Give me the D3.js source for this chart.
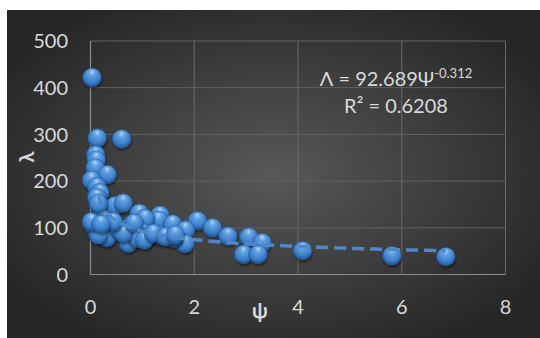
<!DOCTYPE html>
<html><head><meta charset="utf-8">
<script src="https://cdn.jsdelivr.net/npm/d3@7/dist/d3.min.js"></script>
<style>html,body{margin:0;padding:0;background:#fff;}svg{display:block;}</style>
</head><body>
<script>
const psi = [0.03,0.13,0.60,0.10,0.11,0.09,0.32,0.02,0.12,0.18,0.12,0.22,0.25,0.47,0.63,0.94,1.34,1.31,1.05,1.58,2.06,2.35,2.65,1.83,1.82,1.60,1.34,1.00,0.80,0.60,0.31,0.13,0.05,0.73,0.89,1.08,0.50,0.63,0.44,3.05,3.31,2.95,3.23,4.09,5.81,6.85,0.15,0.02,0.84,1.04,0.20,1.21,1.44,0.15,1.63];
const lam = [422,292,290,256,245,228,214,202,188,175,165,134,122,147,153,131,127,116,120,108,115,100,82,95,66,78,84,90,107,98,79,90,105,67,77,80,100,88,113,80,68,43,43,51,40,38,85,113,110,74,108,88,81,152,85];
const xTicks = [0,2,4,6,8];
const yTicks = [0,100,200,300,400,500];
const fitA = 92.689, fitB = -0.312;
const eqLine1 = "Λ = 92.689Ψ", eqSup = "-0.312", eqLine2 = "R² = 0.6208";

const W = 540, H = 338;
const svg = d3.select("body").append("svg").attr("width", W).attr("height", H);
const defs = svg.append("defs");
const bg = defs.append("radialGradient").attr("id","bg").attr("cx","50%").attr("cy","50%").attr("r","60%");
bg.append("stop").attr("offset","0%").attr("stop-color","#585858");
bg.append("stop").attr("offset","100%").attr("stop-color","#262626");
const ball = defs.append("radialGradient").attr("id","ball").attr("cx","50%").attr("cy","40%").attr("r","60%").attr("fx","50%").attr("fy","18%");
ball.append("stop").attr("offset","0%").attr("stop-color","#b4d8fa");
ball.append("stop").attr("offset","28%").attr("stop-color","#62a2e3");
ball.append("stop").attr("offset","72%").attr("stop-color","#3c7fca");
ball.append("stop").attr("offset","100%").attr("stop-color","#1f4f8e");
const blur = defs.append("filter").attr("id","sh").attr("x","-50%").attr("y","-50%").attr("width","200%").attr("height","200%");
blur.append("feGaussianBlur").attr("stdDeviation",1.2);

svg.append("rect").attr("x",7).attr("y",10).attr("width",W-7).attr("height",H-10).attr("fill","url(#bg)");

const x = d3.scaleLinear().domain([0,8]).range([90.5,505.5]);
const y = d3.scaleLinear().domain([0,500]).range([274.5,41]);

const g = svg.append("g");
g.selectAll(".vg").data(xTicks.slice(1)).join("line")
  .attr("x1",d=>x(d)).attr("x2",d=>x(d)).attr("y1",y(0)).attr("y2",y(500))
  .attr("stroke","#6a6a6a").attr("stroke-width",1);
g.selectAll(".hg").data(yTicks.slice(1)).join("line")
  .attr("x1",x(0)).attr("x2",x(8)).attr("y1",d=>y(d)).attr("y2",d=>y(d))
  .attr("stroke","#626262").attr("stroke-width",1);
g.append("line").attr("x1",x(0)).attr("x2",x(0)).attr("y1",y(0)).attr("y2",y(500)).attr("stroke","#8c8c8c").attr("stroke-width",1.2);
g.append("line").attr("x1",x(0)).attr("x2",x(8)).attr("y1",y(0)).attr("y2",y(0)).attr("stroke","#8c8c8c").attr("stroke-width",1.2);

const font = "Lato, 'Open Sans', sans-serif";
svg.selectAll(".yt").data(yTicks).join("text")
  .attr("x",68).attr("y",d=>y(d)).attr("dy","0.36em").attr("text-anchor","end")
  .attr("font-family",font).attr("font-size",20).attr("fill","#d9d9d9").text(d=>d);
svg.selectAll(".xt").data(xTicks).join("text")
  .attr("x",d=>x(d)).attr("y",307).attr("dy","0.36em").attr("text-anchor","middle")
  .attr("font-family",font).attr("font-size",20).attr("fill","#d9d9d9").text(d=>d);

svg.append("text").attr("x",260).attr("y",311).attr("dy","0.36em").attr("text-anchor","middle")
  .attr("font-family",font).attr("font-size",20).attr("font-weight","bold").attr("fill","#d9d9d9").text("ψ");
svg.append("text").attr("transform","translate(27,157) rotate(-90)").attr("dy","0.36em").attr("text-anchor","middle")
  .attr("font-family",font).attr("font-size",20).attr("font-weight","bold").attr("fill","#d9d9d9").text("λ");

const pts = psi.map((d,i)=>({x:d,y:lam[i]}));
const pg = svg.append("g");
pts.forEach(p=>{
  pg.append("circle").attr("cx",x(p.x)+0.8).attr("cy",y(p.y)+2.2).attr("r",9.3).attr("fill","#000").attr("opacity",0.45).attr("filter","url(#sh)");
  pg.append("circle").attr("cx",x(p.x)).attr("cy",y(p.y)).attr("r",9.3).attr("fill","url(#ball)")
    .attr("stroke","#2b5f9e").attr("stroke-width",0.6);
});

const xs = d3.range(0.15, 6.86, 0.02);
const line = d3.line().x(d=>x(d)).y(d=>y(fitA*Math.pow(d,fitB)));
svg.append("path").datum(xs).attr("d",line).attr("fill","none")
  .attr("stroke","#4f87c8").attr("stroke-width",3.5).attr("stroke-dasharray","12,6");

const eq = svg.append("text").attr("x",396).attr("y",86).attr("text-anchor","middle")
  .attr("font-family",font).attr("font-size",20).attr("fill","#d9d9d9");
eq.append("tspan").text(eqLine1);
eq.append("tspan").attr("dy",-8).attr("font-size",13).text(eqSup);
svg.append("text").attr("x",396).attr("y",113).attr("text-anchor","middle")
  .attr("font-family",font).attr("font-size",20).attr("fill","#d9d9d9").text(eqLine2);
</script>
</body></html>
